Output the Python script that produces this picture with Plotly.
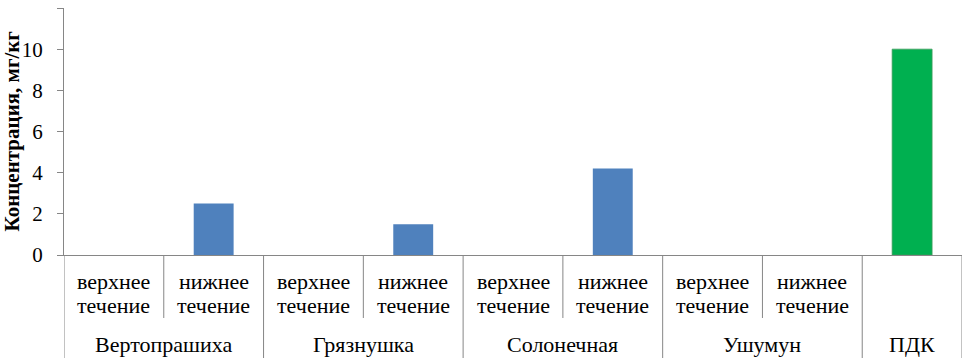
import plotly.graph_objects as go

groups = ["Вертопрашиха", "Грязнушка", "Солонечная", "Ушумун", "ПДК"]
subcats = ["верхнее течение", "нижнее течение"]
river_values = [0, 2.5, 0, 1.5, 0, 4.2, 0, 0]   # upper/lower per river
pdk_value = 10
y_title = "Концентрация, мг/кг"

BLUE = "#4F81BD"
GREEN = "#00B050"
AXIS = "#868686"
FONT = "Liberation Serif"

n_river = len(river_values)
x_river = list(range(n_river))
x_pdk = n_river

fig = go.Figure()
fig.add_trace(go.Bar(x=x_river, y=river_values, width=0.4, marker_color=BLUE,
                     marker_line_width=0, showlegend=False))
fig.add_trace(go.Bar(x=[x_pdk], y=[pdk_value], width=0.4, marker_color=GREEN,
                     marker_line=dict(color="#3C9A5A", width=0.8), showlegend=False))

lab_font = dict(family=FONT, size=22, color="black")
shapes = []
annotations = []
# sub-category labels (two lines each) and short dividers
for i in range(n_river):
    w1, w2 = subcats[i % 2].split(" ")
    annotations.append(dict(x=i, y=-0.107, xref="x", yref="paper", text=w1,
                            showarrow=False, yanchor="middle", font=lab_font))
    annotations.append(dict(x=i, y=-0.204, xref="x", yref="paper", text=w2,
                            showarrow=False, yanchor="middle", font=lab_font))
    if i % 2 == 0:
        shapes.append(dict(type="line", xref="x", yref="paper", x0=i + 0.5, x1=i + 0.5,
                           y0=0, y1=-0.255, line=dict(color=AXIS, width=1)))
# group labels and full dividers
for g, name in enumerate(groups):
    cx = 2 * g + 0.5 if g < len(groups) - 1 else x_pdk
    annotations.append(dict(x=cx, y=-0.364, xref="x", yref="paper", text=name,
                            showarrow=False, yanchor="middle", font=lab_font))
for b in [-0.5, 1.5, 3.5, 5.5, 7.5, 8.5]:
    shapes.append(dict(type="line", xref="x", yref="paper", x0=b, x1=b,
                       y0=0, y1=-0.42, line=dict(color=AXIS, width=1)))

# y-axis title
annotations.append(dict(x=-0.059, y=0.5, xref="paper", yref="paper", text="<b>" + y_title + "</b>",
                        textangle=-90, showarrow=False, xanchor="center", yanchor="middle",
                        font=dict(family=FONT, size=21, color="black")))

fig.update_layout(
    width=963, height=358,
    margin=dict(l=64, r=1, t=8, b=103),
    paper_bgcolor="white", plot_bgcolor="white",
    barmode="overlay",
    shapes=shapes, annotations=annotations,
    font=dict(family=FONT, color="black"),
    xaxis=dict(range=[-0.5, 8.5], showticklabels=False, ticks="", showgrid=False,
               zeroline=False, showline=True, linecolor=AXIS, linewidth=1),
    yaxis=dict(range=[0, 12], dtick=2, showgrid=False, zeroline=False,
               showline=True, linecolor=AXIS, linewidth=1,
               ticks="outside", ticklen=6, tickcolor=AXIS, ticklabelstandoff=10,
               tickfont=dict(family=FONT, size=21, color="black")),
)

fig.write_html("out.html", post_script="document.body.style.margin='0';",
               config={"displayModeBar": False})
